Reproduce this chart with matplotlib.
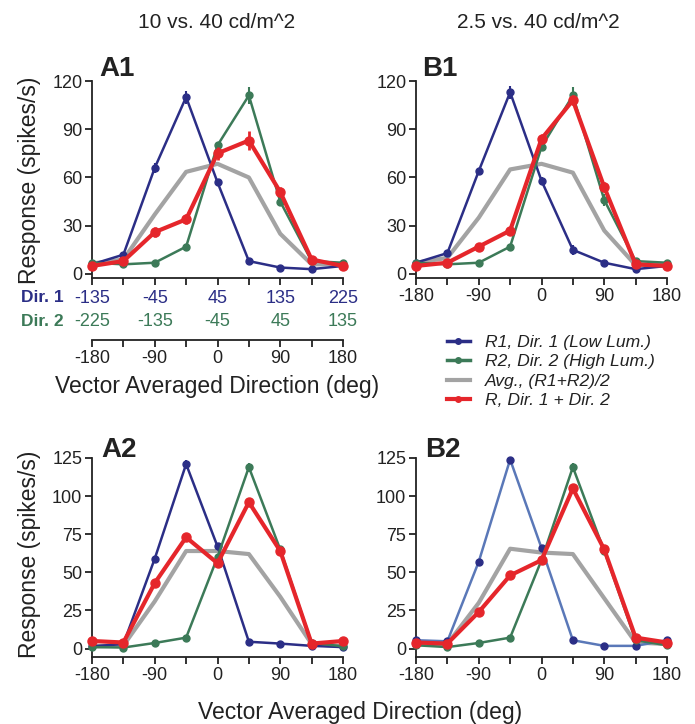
import matplotlib
matplotlib.use("Agg")
import matplotlib.pyplot as plt
from matplotlib.lines import Line2D

plt.rcParams["font.family"] = ["Liberation Sans", "DejaVu Sans"]

# direction axis (vector averaged), shared by every panel
directions = [-180, -135, -90, -45, 0, 45, 90, 135, 180]

# A1: 10 vs. 40 cd/m^2
a1_r1 = [6, 12, 66, 110, 57, 8, 4, 3, 5]
a1_r2 = [7, 6, 7, 17, 80, 111, 45, 8, 7]
a1_avg = [6.5, 9, 37, 63.5, 68.5, 60, 25, 6, 6]
a1_r = [5, 8, 26, 34, 75, 83, 51, 9, 5]
a1_r1_err = [1, 1, 3, 4, 2, 1, 1, 1, 1]
a1_r2_err = [1, 1, 1, 1, 2, 5, 3, 1, 1]
a1_r_err = [1, 1, 3, 3, 4, 6, 3, 1, 1]

# B1: 2.5 vs. 40 cd/m^2
b1_r1 = [7, 13, 64, 113, 58, 15, 7, 3, 5]
b1_r2 = [7, 6, 7, 17, 79, 111, 46, 8, 7]
b1_avg = [7, 10, 35, 65, 68.5, 63, 27, 5.5, 6]
b1_r = [5, 7, 17, 27, 84, 108, 54, 6, 5]
b1_r1_err = [1, 1, 2, 4, 2, 3, 1, 1, 1]
b1_r2_err = [1, 1, 1, 1, 2, 5, 4, 1, 1]
b1_r_err = [1, 1, 2, 2, 3, 3, 3, 1, 1]

# A2
a2_r1 = [1.5, 3, 59, 121, 67, 4.5, 3.3, 1.8, 1]
a2_r2 = [1, 0.7, 3.7, 7.2, 60, 119, 65, 3.7, 1.5]
a2_avg = [1.5, 2, 31, 64, 64, 62, 34, 3, 1.5]
a2_r = [5, 4, 43, 73, 56, 96, 64, 3.3, 5]
a2_r1_err = [1, 1, 1, 3, 2, 1, 1, 1, 1]
a2_r2_err = [1, 1, 1, 1, 2, 3, 2, 1, 1]
a2_r_err = [1, 1, 2, 2, 2, 2, 2, 1, 1]

# B2
b2_r1 = [5.5, 4.8, 57, 124, 66, 5.5, 1.8, 1.8, 5.5]
b2_r2 = [2.2, 1, 3.7, 7.2, 58, 119, 64, 5.5, 2.2]
b2_avg = [3, 3, 30, 65.5, 63, 62, 33, 4, 3]
b2_r = [4, 3.3, 24, 48, 58, 105, 65, 7.2, 4]
b2_r1_err = [1, 1, 1, 1, 1, 1, 1, 1, 1]
b2_r2_err = [1, 1, 1, 1, 2, 3, 2, 1, 1]
b2_r_err = [1, 1, 2, 2, 2, 2, 2, 1, 1]

# A1 shifted direction labels
dir1_labels = ["-135", "-45", "45", "135", "225"]
dir2_labels = ["-225", "-135", "-45", "45", "135"]

column_titles = ["10 vs. 40 cd/m^2", "2.5 vs. 40 cd/m^2"]
legend_labels = ["R1, Dir. 1 (Low Lum.)", "R2, Dir. 2 (High Lum.)",
                 "Avg., (R1+R2)/2", "R, Dir. 1 + Dir. 2"]

BLUE = "#2b2e86"
BLUE_LIGHT = "#5a78b8"
GREEN = "#3c7a58"
GRAY = "#a3a3a3"
RED = "#e5262b"
TXT = "#222222"

TICK_FS = 13
LABEL_FS = 16.5

W, H = 695, 724
fig = plt.figure(figsize=(W / 100, H / 100), dpi=100)


def px_axes(left, top, right, bottom):
    return fig.add_axes([left / W, 1 - bottom / H, (right - left) / W, (bottom - top) / H])


def draw_panel(ax, r1, r2, avg, r, e1, e2, er, ymax, yticks, ymin, blue_line=BLUE):
    ax.plot(directions, avg, color=GRAY, lw=3, zorder=2, clip_on=False)
    ax.errorbar(directions, r1, yerr=e1, color=blue_line, lw=1.8, marker="o", ms=5,
                mfc=BLUE, mec=BLUE, ecolor=BLUE, elinewidth=1.5, capsize=0,
                zorder=3, clip_on=False)
    ax.errorbar(directions, r2, yerr=e2, color=GREEN, lw=1.8, marker="o", ms=5,
                elinewidth=1.5, capsize=0, zorder=3, clip_on=False)
    ax.errorbar(directions, r, yerr=er, color=RED, lw=3, marker="o", ms=6.5,
                elinewidth=2, capsize=0, zorder=4, clip_on=False)
    ax.set_xlim(-180, 180)
    ax.set_ylim(ymin, ymax)
    ax.set_yticks(yticks)
    ax.set_xticks(directions)
    ax.set_xticklabels([str(d) if d % 90 == 0 else "" for d in directions])
    for s in ["top", "right"]:
        ax.spines[s].set_visible(False)
    for s in ["left", "bottom"]:
        ax.spines[s].set_linewidth(1.3)
        ax.spines[s].set_color(TXT)
    ax.tick_params(direction="out", length=5, width=1.3, labelsize=TICK_FS,
                   colors=TXT, pad=2)
    ax.patch.set_alpha(0)


ax_a1 = px_axes(92, 81, 343, 278)
ax_b1 = px_axes(416, 81, 667, 278)
ax_a2 = px_axes(92, 458, 343, 657)
ax_b2 = px_axes(416, 458, 667, 657)

draw_panel(ax_a1, a1_r1, a1_r2, a1_avg, a1_r, a1_r1_err, a1_r2_err, a1_r_err,
           120, [0, 30, 60, 90, 120], -2.5)
draw_panel(ax_b1, b1_r1, b1_r2, b1_avg, b1_r, b1_r1_err, b1_r2_err, b1_r_err,
           120, [0, 30, 60, 90, 120], -2.5)
draw_panel(ax_a2, a2_r1, a2_r2, a2_avg, a2_r, a2_r1_err, a2_r2_err, a2_r_err,
           125, [0, 25, 50, 75, 100, 125], -5.5)
draw_panel(ax_b2, b2_r1, b2_r2, b2_avg, b2_r, b2_r1_err, b2_r2_err, b2_r_err,
           125, [0, 25, 50, 75, 100, 125], -5.5, blue_line=BLUE_LIGHT)

# A1: direction rows instead of plain tick labels
ax_a1.set_xticklabels([])
major = [d for d in directions if d % 90 == 0]
for d, l1, l2 in zip(major, dir1_labels, dir2_labels):
    ax_a1.annotate(l1, (d, 0), xycoords=("data", "axes fraction"), xytext=(0, -14.5),
                   textcoords="offset points", ha="center", va="center",
                   color=BLUE, fontsize=TICK_FS, annotation_clip=False)
    ax_a1.annotate(l2, (d, 0), xycoords=("data", "axes fraction"), xytext=(0, -31),
                   textcoords="offset points", ha="center", va="center",
                   color=GREEN, fontsize=TICK_FS, annotation_clip=False)
fig.text(64 / W, 1 - 298 / H, "Dir. 1", color=BLUE, fontsize=12.5, fontweight="bold",
         ha="right", va="center")
fig.text(64 / W, 1 - 321 / H, "Dir. 2", color=GREEN, fontsize=12.5, fontweight="bold",
         ha="right", va="center")

sec = ax_a1.secondary_xaxis((278 - 340) / (278 - 81))
sec.set_xticks(directions)
sec.set_xticklabels([str(d) if d % 90 == 0 else "" for d in directions])
sec.spines["bottom"].set_linewidth(1.3)
sec.spines["bottom"].set_color(TXT)
sec.tick_params(direction="out", length=5, width=1.3, labelsize=TICK_FS, colors=TXT, pad=2)
fig.text(217 / W, 1 - 387 / H, "Vector Averaged Direction (deg)", fontsize=LABEL_FS,
         ha="center", va="center", color=TXT)

# column titles
fig.text(217 / W, 1 - 22 / H, column_titles[0], fontsize=15, ha="center", va="center", color=TXT)
fig.text(538 / W, 1 - 22 / H, column_titles[1], fontsize=15, ha="center", va="center", color=TXT)

# panel letters
for x, y, lab in [(99, 76, "A1"), (422, 76, "B1"), (101, 457, "A2"), (425, 457, "B2")]:
    fig.text(x / W, 1 - y / H, lab, fontsize=20, fontweight="bold", ha="left",
             va="baseline", color=TXT)

# y labels
fig.text(30 / W, 1 - 180 / H, "Response (spikes/s)", rotation=90, fontsize=LABEL_FS,
         ha="center", va="center", color=TXT)
fig.text(30 / W, 1 - 554 / H, "Response (spikes/s)", rotation=90, fontsize=LABEL_FS,
         ha="center", va="center", color=TXT)

# bottom x label
fig.text(360 / W, 1 - 712 / H, "Vector Averaged Direction (deg)", fontsize=LABEL_FS,
         ha="center", va="center", color=TXT)

# legend
handles = [
    Line2D([], [], color=BLUE, lw=2.5, marker="o", ms=4),
    Line2D([], [], color=GREEN, lw=2.5, marker="o", ms=4),
    Line2D([], [], color=GRAY, lw=3),
    Line2D([], [], color=RED, lw=3, marker="o", ms=4),
]
leg = fig.legend(handles, legend_labels, loc="upper left",
                 bbox_to_anchor=(431 / W, 1 - 319 / H), frameon=False,
                 handlelength=1.3, handletextpad=0.9, labelspacing=0.24,
                 prop={"style": "italic", "size": 12.6})
for t in leg.get_texts():
    t.set_color(TXT)

fig.savefig("out.png", dpi=100)
